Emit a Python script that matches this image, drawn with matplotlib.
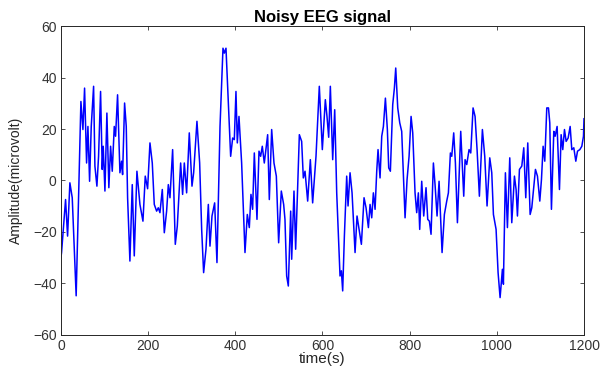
import matplotlib
matplotlib.use('Agg')
import matplotlib.pyplot as plt

plt.rcParams['font.family'] = ['Liberation Sans', 'DejaVu Sans']

# time (s) and amplitude (microvolt), turning points only
t = [0, 1.5, 10.7, 15.3, 20.6, 26, 35, 45.9, 50.5, 54.3, 58.9, 62, 65.8, 69.6, 75, 78, 82.6,
     86.4, 91, 94.8, 97.1, 101, 105.5, 110, 114, 117.8, 122.4, 125.4, 130, 135.4, 139.2,
     141.5, 146.1, 149.9, 153, 158.3, 163.7, 168.3, 174.4, 181.3, 188.2, 193.5, 198.9,
     204.3, 209.6, 214.2, 219.6, 223.4, 227.2, 232.6, 237.2, 242.5, 246.4, 250.2, 256.3,
     262.4, 267, 274.7, 279.2, 283.1, 288.4, 294.5, 300.7, 304.5, 312.1, 318.3, 322.9,
     327.4, 332.8, 338.2, 342, 346.6, 352.7, 358, 365, 371.8, 374.9, 378.7, 384.1, 389.4,
     394, 397.8, 401.6, 404.7, 408.5, 414.6, 422.3, 427.6, 432.2, 436, 439.8, 443.7,
     449.8, 454.4, 458.2, 462, 466.6, 474.3, 478.1, 483.5, 488.8, 494.2, 499.5, 505.6,
     511, 514, 517.9, 521.7, 527.1, 529.4, 534.7, 538.5, 547, 552.3, 556.1, 560, 566.1,
     572.2, 577.5, 585.2, 592.8, 599.7, 606.6, 610.4, 614.3, 618.1, 623.5, 628.1, 632.7,
     640.3, 643.4, 646.4, 650.3, 655.6, 658.7, 663.3, 667.9, 674.8, 679.3, 689.3, 695.4,
     700, 705.4, 709.2, 713, 716.8, 720.7, 724.5, 727.5, 732.1, 736, 739.8, 744.4, 748.9,
     752, 755.8, 761.2, 765, 768.1, 772.7, 777.3, 781.8, 789.5, 794.1, 798.7, 803.3,
     807.1, 812.4, 816.2, 820, 823.1, 827.7, 832.3, 837.6, 841.5, 845.3, 849.1, 854.5,
     858.3, 862.9, 867.5, 874.4, 879.7, 885.1, 888.9, 893.5, 896.6, 901.1, 905, 909.6,
     917.2, 924.1, 927.2, 931, 936.3, 940.2, 945.5, 950.1, 954.7, 960, 966.9, 972.3,
     977.6, 983.8, 988.4, 992.2, 998.3, 1002.9, 1007.5, 1012.8, 1015.1, 1019.7, 1024.3,
     1029.7, 1034.3, 1040.4, 1044.2, 1047.3, 1051.9, 1057.3, 1061.8, 1066.4, 1071,
     1076.4, 1080.2, 1084.8, 1088.6, 1093.2, 1098.6, 1102.4, 1106.2, 1110, 1114.6,
     1118.5, 1121.5, 1125.3, 1130.7, 1133.8, 1138.3, 1143.7, 1147.5, 1151.3, 1155.2,
     1159, 1163.6, 1168.2, 1172, 1176.6, 1181.2, 1185.1, 1190.4, 1195, 1198.8, 1200]
amp = [-30, -28, -7.4, -21.6, -0.9, -6.7, -44.8, 30.7, 19.8, 35.9, 6.8, 21, -0.3, 21, 36.6,
       5.6, -2.2, 9.4, 34.6, 4.3, 13.3, -4.1, 26.2, -2.8, 13.3, 3.6, 21, 17.2, 33.3, 3, 7.5,
       2.3, 30.1, 21, -6.7, -31.3, -1.6, -29.3, 3.6, -9.3, -15.8, 1.7, -3.2, 14.6, 6.8,
       -9.3, -11.9, -10.6, -12.5, -3.5, -20.3, -11.9, -1.6, -6.7, 12, -24.8, -17.7, 6.8,
       -5.4, 6.8, -4.8, 18.5, -2.2, 3, 23, 6.8, -19, -35.8, -26.7, -9.3, -25.5, -13.8,
       -8.7, -31.9, 21, 51.4, 49.5, 51.4, 30.1, 9.4, 16.5, 15.9, 34.6, 14.6, 24.9, 6.8,
       -28, -13.2, -18.3, -5.4, -11.2, 10.7, -15.1, 11.4, 9.4, 13.3, 6.8, 17.8, -7.4,
       19.8, 6.8, 1.7, -24.2, -4.1, -9.3, -15.1, -37.1, -41, -11.9, -30.6, -4.1, -26.7,
       17.8, 15.2, 1, 3.6, -8, 8.1, -8.7, 9.4, 36.6, 12, 31.4, 24.9, 16.8, 36.6, 8.1,
       27.5, -4.8, -37.1, -35.1, -42.9, -21.6, 1.7, -9.9, 3, -4.8, -28, -13.8, -24.8,
       -6.7, -10.6, -18.3, -9.3, -14.5, -4.8, -11.2, 3.6, 12, 1, 17.2, 21, 32, 19.8, 4.9,
       3.6, 29.5, 35.9, 43.7, 28.2, 22.4, 19.1, -14.5, 0.4, 9.4, 24.9, 18.5, -4.8, -12.5,
       -4.8, -19, -0.3, -13.8, -2.8, -15.1, -15.8, -20.9, 6.8, -1.6, -13.8, -0.3, -28,
       -13.2, -8, -4.8, 10.7, 9.4, 18.5, 6.8, -16.4, 19.1, -6.1, 8.1, 6.2, 12, 10.7, 28.2,
       24.9, 12, -6.1, 19.8, 9.4, -9.9, 8.8, 3, -13.2, -19, -35.8, -45.5, -34.5, -40.3, 3,
       -18.3, 8.8, -16.4, 1.7, -3.5, -13.8, 4.3, 5.6, 12.7, -6.7, 14.6, -13.2, -10.6, -2.2,
       4.3, 1.7, -8, 0.4, 13.3, 7.5, 28.2, 28.2, 22.4, -11.2, 19.1, 17.2, 21, -3.5, 17.8,
       12, 19.8, 15.2, 16.5, 21, 12, 12.7, 7.5, 11.4, 12, 13.3, 17.2, 24]

fig = plt.figure(figsize=(6.03, 3.78), dpi=100, facecolor='w')
ax = fig.add_axes([0.101, 0.114, 0.8675, 0.817])
ax.plot(t, amp, color='#0000ff', lw=1.1)

ax.set_xlim(0, 1200)
ax.set_ylim(-60, 60)
ax.set_xticks([0, 200, 400, 600, 800, 1000, 1200])
ax.set_yticks([-60, -40, -20, 0, 20, 40, 60])
ax.tick_params(direction='in', top=True, right=True, length=3, width=0.6,
               labelsize=10, colors='#333333', pad=3)
for s in ax.spines.values():
    s.set_linewidth(0.7)
    s.set_color('#262626')

ax.set_title('Noisy EEG signal', fontsize=12, fontweight='bold', pad=3)
ax.set_xlabel('time(s)', fontsize=11, color='#262626', labelpad=-1)
ax.set_ylabel('Amplitude(microvolt)', fontsize=10, color='#262626', labelpad=7)

plt.savefig('out.png', dpi=100)
